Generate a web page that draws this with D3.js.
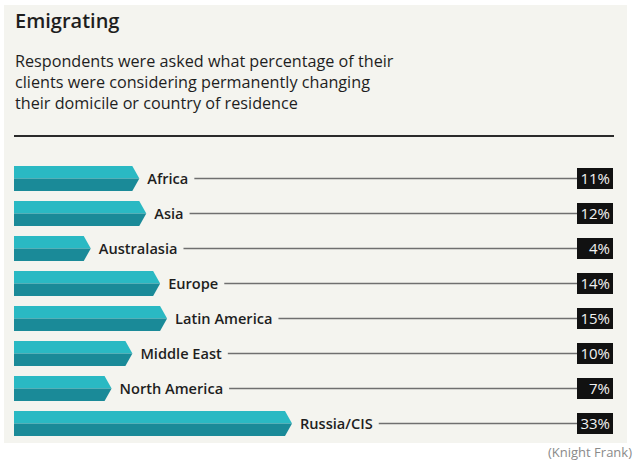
<!DOCTYPE html>
<html>
<head>
<meta charset="utf-8">
<script src="https://cdn.jsdelivr.net/npm/d3@7"></script>
<style>
body { margin: 0; background: #ffffff; }
svg { display: block; }
</style>
</head>
<body>
<svg id="chart"></svg>
<script>
var width = 640;
var height = 471;

var regions = ["Africa", "Asia", "Australasia", "Europe", "Latin America", "Middle East", "North America", "Russia/CIS"];
var values = [11, 12, 4, 14, 15, 10, 7, 33];
var subtitleLines = [
	"Respondents were asked what percentage of their",
	"clients were considering permanently changing",
	"their domicile or country of residence"
];

var font = "'Open Sans', 'DejaVu Sans', sans-serif";
var barStart = 14;
var tipDepth = 7;
var boxLeft = 577;
var boxWidth = 36;

var svg = d3.select("#chart")
.attr("width", width)
.attr("height", height);

// panel background
svg.append("rect")
.attr("x", 4)
.attr("y", 5)
.attr("width", 623)
.attr("height", 438)
.style("fill", "#f4f4ef");

svg.append("text")
.attr("x", 15)
.attr("y", 28)
.style("font-family", font)
.style("font-size", "20px")
.style("font-weight", 600)
.style("fill", "#1e1e1e")
.text("Emigrating");

svg.selectAll(".subtitle")
.data(subtitleLines)
.enter()
.append("text")
.attr("class", "subtitle")
.attr("x", 15)
.attr("y", function (d, i) { return 67 + i * 21; })
.style("font-family", font)
.style("font-size", "16.2px")
.style("font-weight", 500)
.style("fill", "#1e1e1e")
.text(function (d) { return d; });

svg.append("line")
.attr("x1", 14)
.attr("x2", 614)
.attr("y1", 136)
.attr("y2", 136)
.style("stroke", "#2a2a2a")
.style("stroke-width", 2);

var x = d3.scaleLinear()
.domain([0, 33])
.range([63, 292]);

var y = d3.scaleBand()
.domain(regions)
.range([161, 441])
.paddingInner(10 / 35)
.paddingOuter(5 / 35);

var data = regions.map(function (r, i) { return {region: r, value: values[i]}; });

var rows = svg.selectAll(".row")
.data(data)
.enter()
.append("g")
.attr("class", "row");

function topHalf (d) {
	var tip = x(d.value), y0 = y(d.region), h = y.bandwidth();
	return "M" + barStart + "," + y0 + "L" + (tip - tipDepth) + "," + y0 +
		"L" + tip + "," + (y0 + h / 2) + "L" + barStart + "," + (y0 + h / 2) + "Z";
}

function bottomHalf (d) {
	var tip = x(d.value), y0 = y(d.region), h = y.bandwidth();
	return "M" + barStart + "," + (y0 + h / 2) + "L" + tip + "," + (y0 + h / 2) +
		"L" + (tip - tipDepth) + "," + (y0 + h) + "L" + barStart + "," + (y0 + h) + "Z";
}

rows.append("path")
.attr("d", topHalf)
.style("fill", "#2ab9c3");

rows.append("path")
.attr("d", bottomHalf)
.style("fill", "#1a8a98");

var labels = rows.append("text")
.attr("x", function (d) { return x(d.value) + 8; })
.attr("y", function (d) { return y(d.region) + y.bandwidth() / 2; })
.attr("dy", "0.35em")
.style("font-family", font)
.style("font-size", "14.6px")
.style("font-weight", 600)
.style("fill", "#1e1e1e")
.text(function (d) { return d.region; });

labels.each(function (d) {
	d.labelEnd = x(d.value) + 8 + this.getComputedTextLength();
});

rows.append("line")
.attr("x1", function (d) { return d.labelEnd + 6; })
.attr("x2", boxLeft)
.attr("y1", function (d) { return y(d.region) + y.bandwidth() / 2; })
.attr("y2", function (d) { return y(d.region) + y.bandwidth() / 2; })
.style("stroke", "#6f6f6f")
.style("stroke-width", 1.6);

rows.append("rect")
.attr("x", boxLeft)
.attr("y", function (d) { return y(d.region) + y.bandwidth() / 2 - 10.5; })
.attr("width", boxWidth)
.attr("height", 21)
.style("fill", "#111");

rows.append("text")
.attr("x", boxLeft + boxWidth - 3)
.attr("y", function (d) { return y(d.region) + y.bandwidth() / 2; })
.attr("dy", "0.36em")
.style("text-anchor", "end")
.style("font-family", font)
.style("font-size", "15px")
.style("font-weight", 500)
.style("fill", "#f2f2f2")
.text(function (d) { return d.value + "%"; });

svg.append("text")
.attr("x", 632)
.attr("y", 457)
.style("text-anchor", "end")
.style("font-family", font)
.style("font-size", "13px")
.style("fill", "#8a8a8a")
.text("(Knight Frank)");
</script>
</body>
</html>
